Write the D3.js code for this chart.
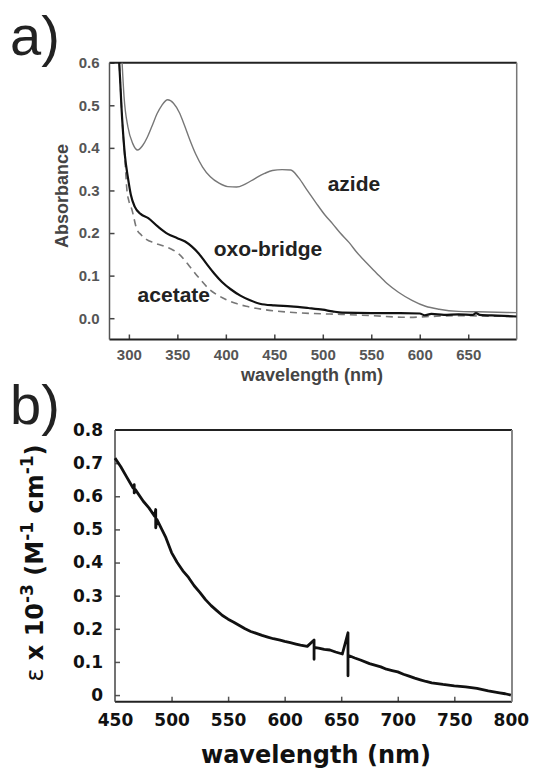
<!DOCTYPE html>
<html>
<head>
<meta charset="utf-8">
<script src="https://cdn.jsdelivr.net/npm/d3@7"></script>
<style>
  body { margin: 0; background: #fff; }
  svg { display: block; }
</style>
</head>
<body>
<svg id="chart" width="537" height="772"></svg>
<script>
// ---- panel a data (absorbance vs wavelength) ----
var azideWl  = [290, 293, 295, 299, 304, 309, 314, 319, 324, 329, 334, 340, 346, 352, 357, 363, 369, 376, 384, 393, 402, 411, 420, 430, 440, 448, 458, 467, 475, 484, 493, 502, 510, 518, 527, 535, 545, 555, 566, 578, 592, 606, 620, 640, 660, 680, 700];
var azideAbs = [0.75, 0.60, 0.52, 0.449, 0.41, 0.395, 0.405, 0.425, 0.452, 0.48, 0.50, 0.513, 0.505, 0.483, 0.455, 0.418, 0.385, 0.355, 0.332, 0.317, 0.309, 0.308, 0.315, 0.328, 0.34, 0.347, 0.349, 0.348, 0.33, 0.30, 0.271, 0.243, 0.222, 0.20, 0.178, 0.155, 0.13, 0.107, 0.082, 0.061, 0.042, 0.028, 0.021, 0.016, 0.015, 0.014, 0.013];

var oxoWl  = [287, 290, 293, 296, 299, 302, 306, 312, 320, 330, 340, 350, 358, 365, 372, 380, 388, 396, 405, 415, 425, 435, 450, 467, 485, 500, 510, 520, 550, 580, 600, 605, 612, 625, 640, 655, 658, 662, 680, 700];
var oxoAbs = [0.68, 0.60, 0.47, 0.38, 0.33, 0.29, 0.262, 0.245, 0.235, 0.215, 0.198, 0.188, 0.18, 0.168, 0.152, 0.128, 0.105, 0.085, 0.068, 0.053, 0.042, 0.034, 0.030, 0.028, 0.024, 0.020, 0.016, 0.013, 0.012, 0.012, 0.011, 0.007, 0.010, 0.008, 0.009, 0.008, 0.012, 0.008, 0.006, 0.004];

var acetWl  = [287, 290, 293, 296, 298, 300, 303, 308, 313, 318, 326, 335, 344, 352, 358, 365, 374, 383, 391, 400, 410, 421, 440, 466, 490, 519, 550, 589, 610, 640, 670, 700];
var acetAbs = [0.68, 0.60, 0.47, 0.37, 0.30, 0.275, 0.256, 0.21, 0.195, 0.185, 0.177, 0.17, 0.162, 0.15, 0.135, 0.115, 0.09, 0.068, 0.055, 0.044, 0.035, 0.028, 0.020, 0.014, 0.011, 0.009, 0.006, 0.002, 0.004, 0.006, 0.005, 0.004];

var aXTicks = [300, 350, 400, 450, 500, 550, 600, 650];
var aYTicks = [0.0, 0.1, 0.2, 0.3, 0.4, 0.5, 0.6];

// ---- panel b data (epsilon vs wavelength), spikes kept as repeated wavelengths ----
var epsWl  = [450, 455, 460, 466, 467, 467, 468, 475, 480, 485, 486, 486, 487, 495, 500, 505, 510, 515, 520, 525, 530, 535, 540, 545, 550, 555, 560, 565, 570, 575, 580, 585, 590, 596, 600, 605, 610, 614, 620, 626, 626, 626, 630, 635, 640, 645, 651, 656, 656, 656, 662, 667, 675, 685, 690, 695, 700, 705, 710, 715, 720, 725, 730, 740, 750, 760, 770, 780, 790, 795, 800];
var epsVal = [0.715, 0.69, 0.66, 0.625, 0.635, 0.61, 0.62, 0.585, 0.565, 0.54, 0.56, 0.505, 0.53, 0.475, 0.43, 0.40, 0.375, 0.355, 0.33, 0.31, 0.288, 0.27, 0.255, 0.24, 0.229, 0.22, 0.21, 0.20, 0.192, 0.186, 0.18, 0.175, 0.17, 0.166, 0.162, 0.158, 0.154, 0.151, 0.147, 0.166, 0.108, 0.144, 0.142, 0.138, 0.136, 0.13, 0.124, 0.188, 0.058, 0.12, 0.112, 0.106, 0.095, 0.085, 0.078, 0.074, 0.07, 0.063, 0.057, 0.051, 0.046, 0.041, 0.037, 0.032, 0.028, 0.025, 0.02, 0.013, 0.007, 0.004, 0.0];

var bXTicks = [450, 500, 550, 600, 650, 700, 750, 800];
var bYTicks = [0, 0.1, 0.2, 0.3, 0.4, 0.5, 0.6, 0.7, 0.8];

function zip(xs, ys) { return xs.map(function(x, i) { return {x: x, y: ys[i]}; }); }

var svg = d3.select("#chart");

// ================= panel a =================
var ax = d3.scaleLinear().domain([280, 700]).range([109.5, 516.7]);
var ay = d3.scaleLinear().domain([-0.05, 0.6]).range([339.5, 62.7]);

svg.append("text").attr("x", 10).attr("y", 55)
  .style("font-family", "Liberation Sans, Arial, sans-serif")
  .style("font-size", "56px").style("fill", "#222")
  .text("a)");

svg.append("defs").append("clipPath").attr("id", "clipA")
  .append("rect").attr("x", ax.range()[0]).attr("y", ay.range()[1])
  .attr("width", ax.range()[1] - ax.range()[0]).attr("height", ay.range()[0] - ay.range()[1]);

var ga = svg.append("g");

var aXAxis = d3.axisBottom(ax).tickValues(aXTicks).tickSizeInner(-5).tickSizeOuter(0).tickPadding(10);
var aYAxis = d3.axisLeft(ay).tickValues(aYTicks).tickSizeInner(-5).tickSizeOuter(0).tickPadding(10).tickFormat(d3.format(".1f"));

var gax = ga.append("g").attr("transform", "translate(0," + ay.range()[0] + ")").call(aXAxis);
var gay = ga.append("g").attr("transform", "translate(" + ax.range()[0] + ",0)").call(aYAxis);
[gax, gay].forEach(function(g) {
  g.select(".domain").remove();
  g.selectAll(".tick line").attr("stroke", "#444").attr("stroke-width", 1.5);
  g.selectAll("text").style("font-family", "Liberation Sans, Arial, sans-serif")
    .style("font-size", "15px").style("font-weight", "bold").style("fill", "#555");
});

// frame
ga.append("line").attr("x1", ax.range()[0]).attr("x2", ax.range()[1]).attr("y1", ay.range()[1]).attr("y2", ay.range()[1]).attr("stroke", "#222").attr("stroke-width", 2);
ga.append("line").attr("x1", ax.range()[0]).attr("x2", ax.range()[1]).attr("y1", ay.range()[0]).attr("y2", ay.range()[0]).attr("stroke", "#222").attr("stroke-width", 2);
ga.append("line").attr("x1", ax.range()[0]).attr("x2", ax.range()[0]).attr("y1", ay.range()[1]).attr("y2", ay.range()[0]).attr("stroke", "#555").attr("stroke-width", 1.5);
ga.append("line").attr("x1", ax.range()[1]).attr("x2", ax.range()[1]).attr("y1", ay.range()[1]).attr("y2", ay.range()[0]).attr("stroke", "#777").attr("stroke-width", 1.5);

var lineA = d3.line().x(function(d) { return ax(d.x); }).y(function(d) { return ay(d.y); }).curve(d3.curveMonotoneX);

var plotA = ga.append("g").attr("clip-path", "url(#clipA)");
plotA.append("path").datum(zip(acetWl, acetAbs)).attr("d", lineA)
  .attr("fill", "none").attr("stroke", "#777").attr("stroke-width", 1.6).attr("stroke-dasharray", "7,5");
plotA.append("path").datum(zip(azideWl, azideAbs)).attr("d", lineA)
  .attr("fill", "none").attr("stroke", "#777").attr("stroke-width", 1.4);
plotA.append("path").datum(zip(oxoWl, oxoAbs)).attr("d", lineA)
  .attr("fill", "none").attr("stroke", "#111").attr("stroke-width", 2.2);

function curveLabel(text, wl, val) {
  ga.append("text").attr("x", ax(wl)).attr("y", ay(val))
    .style("font-family", "Liberation Sans, Arial, sans-serif")
    .style("font-size", "21px").style("font-weight", "bold").style("fill", "#222")
    .text(text);
}
curveLabel("azide", 505, 0.298);
curveLabel("oxo-bridge", 387.5, 0.147);
curveLabel("acetate", 309, 0.039);

ga.append("text").attr("transform", "translate(68," + ((ay.range()[0] + ay.range()[1]) / 2 - 5) + ")rotate(-90)")
  .style("text-anchor", "middle")
  .style("font-family", "Liberation Sans, Arial, sans-serif")
  .style("font-size", "18px").style("font-weight", "bold").style("fill", "#444")
  .text("Absorbance");

ga.append("text").attr("x", 312).attr("y", 381)
  .style("text-anchor", "middle")
  .style("font-family", "Liberation Sans, Arial, sans-serif")
  .style("font-size", "18px").style("font-weight", "bold").style("fill", "#444")
  .text("wavelength (nm)");

// ================= panel b =================
var bx = d3.scaleLinear().domain([450, 801]).range([115, 512]);
var by = d3.scaleLinear().domain([-0.02, 0.8]).range([701.7, 430]);

svg.append("text").attr("x", 10).attr("y", 424)
  .style("font-family", "Liberation Sans, Arial, sans-serif")
  .style("font-size", "56px").style("fill", "#222")
  .text("b)");

var gb = svg.append("g");

var bXAxis = d3.axisBottom(bx).tickValues(bXTicks).tickSizeInner(-5).tickSizeOuter(0).tickPadding(12);
var bYAxis = d3.axisLeft(by).tickValues(bYTicks).tickSizeInner(-5).tickSizeOuter(0).tickPadding(12)
  .tickFormat(function(d) { return d === 0 ? "0" : d3.format(".1f")(d); });

var gbx = gb.append("g").attr("transform", "translate(0," + by.range()[0] + ")").call(bXAxis);
var gby = gb.append("g").attr("transform", "translate(" + bx.range()[0] + ",0)").call(bYAxis);
[gbx, gby].forEach(function(g) {
  g.select(".domain").remove();
  g.selectAll(".tick line").attr("stroke", "#555").attr("stroke-width", 1.5);
  g.selectAll("text").style("font-family", "DejaVu Sans, Verdana, sans-serif")
    .style("font-size", "17px").style("font-weight", "bold").style("fill", "#111");
});
// hide edge ticks that sit on the frame
gbx.selectAll(".tick").filter(function(d) { return d === 450 || d === 800; }).select("line").remove();
gby.selectAll(".tick").filter(function(d) { return d === 0.8; }).select("line").remove();

gb.append("line").attr("x1", bx.range()[0]).attr("x2", bx.range()[1]).attr("y1", by.range()[1]).attr("y2", by.range()[1]).attr("stroke", "#222").attr("stroke-width", 2);
gb.append("line").attr("x1", bx.range()[0]).attr("x2", bx.range()[1]).attr("y1", by.range()[0]).attr("y2", by.range()[0]).attr("stroke", "#222").attr("stroke-width", 2);
gb.append("line").attr("x1", bx.range()[0]).attr("x2", bx.range()[0]).attr("y1", by.range()[1]).attr("y2", by.range()[0]).attr("stroke", "#444").attr("stroke-width", 1.5);
gb.append("line").attr("x1", bx.range()[1]).attr("x2", bx.range()[1]).attr("y1", by.range()[1]).attr("y2", by.range()[0]).attr("stroke", "#888").attr("stroke-width", 2);

var lineB = d3.line().x(function(d) { return bx(d.x); }).y(function(d) { return by(d.y); });
gb.append("path").datum(zip(epsWl, epsVal)).attr("d", lineB)
  .attr("fill", "none").attr("stroke", "#111").attr("stroke-width", 2.8).attr("stroke-linejoin", "round");

gb.append("text").attr("x", 316).attr("y", 763)
  .style("text-anchor", "middle")
  .style("font-family", "DejaVu Sans, Verdana, sans-serif")
  .style("font-size", "24px").style("font-weight", "bold").style("fill", "#111")
  .text("wavelength (nm)");

var yLab = gb.append("text").attr("transform", "translate(43,563)rotate(-90)")
  .style("text-anchor", "middle")
  .style("font-family", "DejaVu Sans, Verdana, sans-serif")
  .style("font-size", "24px").style("font-weight", "bold").style("fill", "#111");
yLab.append("tspan").style("font-weight", "normal").text("\u03b5");
yLab.append("tspan").text(" x 10");
yLab.append("tspan").attr("dy", -10).style("font-size", "17px").text("-3");
yLab.append("tspan").attr("dy", 10).text(" (M");
yLab.append("tspan").attr("dy", -10).style("font-size", "17px").text("-1");
yLab.append("tspan").attr("dy", 10).text(" cm");
yLab.append("tspan").attr("dy", -10).style("font-size", "17px").text("-1");
yLab.append("tspan").attr("dy", 10).text(")");
</script>
</body>
</html>
